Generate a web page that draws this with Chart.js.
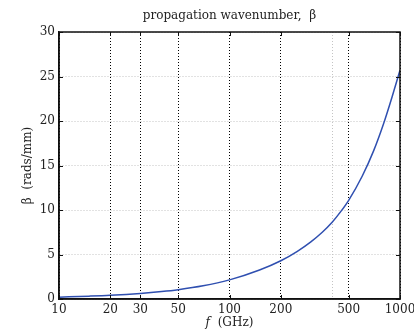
<!DOCTYPE html>
<html>
<head>
<meta charset="utf-8">
<script src="https://cdn.jsdelivr.net/npm/chart.js@4/dist/chart.umd.min.js"></script>
<style>
  html, body { margin: 0; padding: 0; background: #fff; }
  #wrap { width: 414px; height: 333px; }
</style>
</head>
<body>
<div id="wrap"><canvas id="beta"></canvas></div>
<script>
// frequency (GHz) and propagation wavenumber (rads/mm)
const freqGHz = [10, 15, 20, 30, 40, 50, 70, 100, 150, 200, 250, 300, 350, 400, 450, 500, 600, 700, 800, 900, 1000];
const betaVals = [0.21, 0.32, 0.42, 0.63, 0.84, 1.05, 1.48, 2.15, 3.26, 4.3, 5.36, 6.42, 7.5, 8.62, 9.84, 11.09, 13.79, 16.64, 19.66, 22.75, 25.7];

const xTicks = [10, 20, 30, 50, 100, 200, 400, 500, 1000];
const xTickLabels = [10, 20, 30, 50, 100, 200, 500, 1000];
const yTicks = [0, 5, 10, 15, 20, 25, 30];

const serif = 'DejaVu Serif';

// box round the plot, inner tick marks, and the x label with italic f
const frame = {
    id: 'frame',
    afterDraw(chart) {
        const c = chart.ctx, a = chart.chartArea;
        const xs = chart.scales.x, ys = chart.scales.y;
        c.save();
        c.strokeStyle = '#111';
        c.lineWidth = 1;
        yTicks.forEach(v => {
            const y = Math.round(ys.getPixelForValue(v)) + 0.5;
            c.beginPath();
            c.moveTo(a.left, y); c.lineTo(a.left + 4, y);
            c.moveTo(a.right, y); c.lineTo(a.right - 4, y);
            c.stroke();
        });
        xTickLabels.forEach(v => {
            const x = Math.round(xs.getPixelForValue(v)) + 0.5;
            c.beginPath();
            c.moveTo(x, a.bottom); c.lineTo(x, a.bottom - 4);
            c.moveTo(x, a.top); c.lineTo(x, a.top + 4);
            c.stroke();
        });
        c.lineWidth = 1.5;
        c.strokeRect(a.left, a.top, a.right - a.left, a.bottom - a.top);

        c.fillStyle = '#222';
        c.textBaseline = 'alphabetic';
        c.textAlign = 'left';
        const fPart = 'f', rest = '  (GHz)';
        c.font = 'italic 12px "' + serif + '"';
        const w1 = c.measureText(fPart).width;
        c.font = '12px "' + serif + '"';
        const w2 = c.measureText(rest).width;
        let x0 = (a.left + a.right) / 2 - (w1 + w2) / 2;
        c.font = 'italic 12px "' + serif + '"';
        c.fillText(fPart, x0, 326);
        c.font = '12px "' + serif + '"';
        c.fillText(rest, x0 + w1, 326);
        c.restore();
    }
};

const ctx = document.getElementById('beta').getContext('2d');
const chart = new Chart(ctx, {
    type: 'line',
    data: {
        datasets: [{
            label: 'beta',
            data: freqGHz.map((f, i) => ({ x: f, y: betaVals[i] })),
            borderColor: '#2f4fb0',
            borderWidth: 1.5,
            pointRadius: 0,
            fill: false,
            cubicInterpolationMode: 'monotone'
        }]
    },
    options: {
        responsive: true,
        maintainAspectRatio: false,
        animation: false,
        layout: { padding: { left: 0, right: 14, top: 0, bottom: 0 } },
        plugins: {
            legend: { display: false },
            tooltip: { enabled: false },
            title: {
                display: true,
                text: 'propagation wavenumber,  β',
                color: '#222',
                fullSize: false,
                font: { family: serif, size: 12, weight: 'normal' },
                padding: { top: 9, bottom: 8.6 }
            }
        },
        scales: {
            x: {
                type: 'logarithmic',
                min: 10,
                max: 1000,
                afterBuildTicks: s => { s.ticks = xTicks.map(v => ({ value: v })); },
                afterFit: s => { s.height = 34; s.paddingLeft = 0; s.paddingRight = 0; },
                ticks: {
                    autoSkip: false,
                    maxRotation: 0,
                    padding: 4,
                    color: '#222',
                    font: { family: serif, size: 12 },
                    callback: v => xTickLabels.includes(v) ? String(v) : ''
                },
                grid: {
                    drawTicks: false,
                    color: c => (c.tick && c.tick.value === 400) ? '#c4c4c4' : '#000',
                    lineWidth: 1
                },
                border: { display: true, color: '#111', width: 1.5, dash: [1, 2] }
            },
            y: {
                min: 0,
                max: 30,
                afterBuildTicks: s => { s.ticks = yTicks.map(v => ({ value: v })); },
                afterFit: s => { s.width = 59; s.paddingTop = 0; s.paddingBottom = 0; },
                ticks: {
                    padding: 4,
                    color: '#222',
                    font: { family: serif, size: 12 }
                },
                grid: {
                    drawTicks: false,
                    color: '#c4c4c4',
                    lineWidth: 1
                },
                border: { display: true, color: '#111', width: 1.5, dash: [1, 2] },
                title: {
                    display: true,
                    text: 'β  (rads/mm)',
                    color: '#222',
                    font: { family: serif, size: 12 },
                    padding: { top: 21, bottom: 0 }
                }
            }
        }
    },
    plugins: [frame]
});
</script>
</body>
</html>
